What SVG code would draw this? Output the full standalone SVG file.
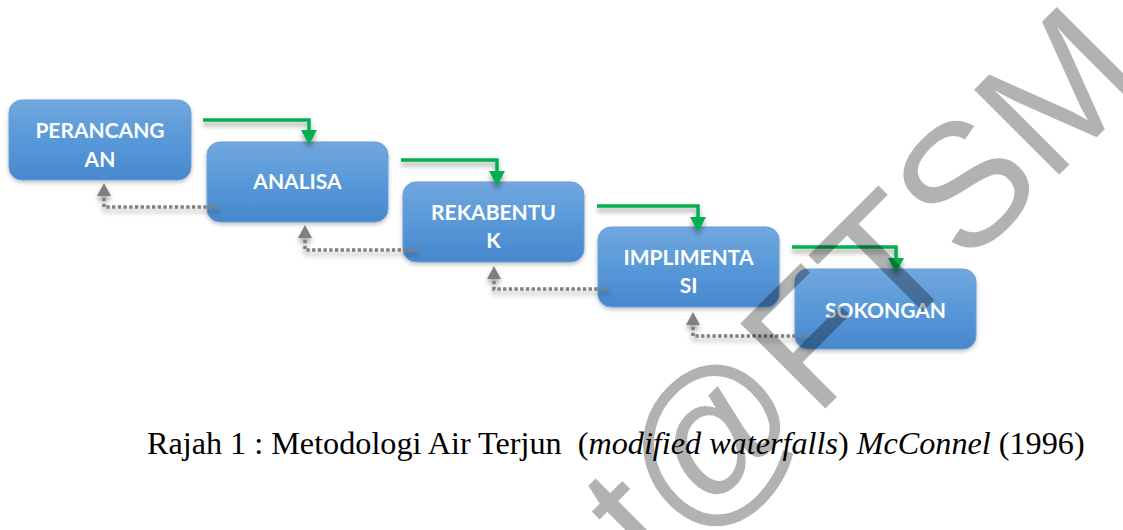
<svg xmlns="http://www.w3.org/2000/svg" width="1123" height="530" viewBox="0 0 1123 530">
<defs>
<linearGradient id="boxGrad" x1="0" y1="0" x2="0" y2="1">
<stop offset="0" stop-color="#72A7DD"/>
<stop offset="0.45" stop-color="#5A9ADA"/>
<stop offset="1" stop-color="#4887CD"/>
</linearGradient>
<filter id="boxShadow" x="-10%" y="-10%" width="130%" height="140%">
<feDropShadow dx="0" dy="2" stdDeviation="2" flood-color="#000" flood-opacity="0.25"/>
</filter>
<filter id="lineShadow" x="-10%" y="-50%" width="130%" height="250%">
<feDropShadow dx="0" dy="4" stdDeviation="2.5" flood-color="#000" flood-opacity="0.35"/>
</filter>
<marker id="greenHead" viewBox="0 0 15 16" markerWidth="15" markerHeight="16" refX="7" refY="8" orient="auto" markerUnits="userSpaceOnUse">
<path d="M0,0 L15,8 L0,16 Z" fill="#00B050"/>
</marker>
<marker id="grayHead" viewBox="0 0 13 14" markerWidth="13" markerHeight="14" refX="6" refY="7" orient="auto" markerUnits="userSpaceOnUse">
<path d="M0,0 L13,7 L0,14 Z" fill="#7F7F7F"/>
</marker>
</defs>
<style>
.box{fill:url(#boxGrad);stroke:#6A9FD8;stroke-width:1;filter:url(#boxShadow);}
.lbl{font-family:Lato,"Open Sans","Liberation Sans",sans-serif;font-weight:bold;font-size:21px;fill:#FFFFFF;text-anchor:middle;}
.fwd{fill:none;stroke:#00B050;stroke-width:3.5;filter:url(#lineShadow);marker-end:url(#greenHead);}
.back{fill:none;stroke:#7F7F7F;stroke-width:3.5;stroke-dasharray:3.3 2.4;filter:url(#lineShadow);marker-end:url(#grayHead);}
.cap{font-family:"Liberation Serif","Times New Roman",serif;font-size:32.2px;fill:#000;}
.wm{font-family:"Liberation Sans",Arial,sans-serif;font-size:175px;fill:#000;fill-opacity:0.3;text-anchor:end;}
</style>
<rect width="1123" height="530" fill="#FFFFFF"/>
<g id="node-perancangan">
<rect class="box" x="9" y="100" width="182" height="80" rx="13"/>
<text class="lbl" x="100" y="138">PERANCANG</text>
<text class="lbl" x="100" y="167">AN</text>
</g>
<g id="node-analisa">
<rect class="box" x="207" y="142" width="181" height="80" rx="13"/>
<text class="lbl" x="297.5" y="189">ANALISA</text>
</g>
<g id="node-rekabentuk">
<rect class="box" x="403" y="182" width="181" height="80" rx="13"/>
<text class="lbl" x="493.5" y="220">REKABENTU</text>
<text class="lbl" x="493.5" y="248">K</text>
</g>
<g id="node-implimentasi">
<rect class="box" x="598" y="227" width="181" height="80" rx="13"/>
<text class="lbl" x="688.5" y="265">IMPLIMENTA</text>
<text class="lbl" x="688.5" y="293">SI</text>
</g>
<g id="node-sokongan">
<rect class="box" x="795" y="269" width="181" height="80" rx="13"/>
<text class="lbl" x="885.5" y="318">SOKONGAN</text>
</g>
<g id="connectors">
<polyline class="fwd" points="203,120 309,120 309,137"/>
<polyline class="fwd" points="401,160 497,160 497,178"/>
<polyline class="fwd" points="597,206 698,206 698,224"/>
<polyline class="fwd" points="792,247 896,247 896,265"/>
<polyline class="back" points="218,207 104,207 104,190"/>
<polyline class="back" points="418,250 305,250 305,232"/>
<polyline class="back" points="609,289 494,289 494,273"/>
<polyline class="back" points="807,336 693,336 693,319"/>
</g>
<text class="cap" x="147" y="454" xml:space="preserve">Rajah 1 : Metodologi Air Terjun  (<tspan font-style="italic">modified waterfalls</tspan>) <tspan font-style="italic">McConnel</tspan> (1996)</text>
<text class="wm" x="1152" y="82" transform="rotate(-45 1152 82)">t@FTSM</text>
</svg>
